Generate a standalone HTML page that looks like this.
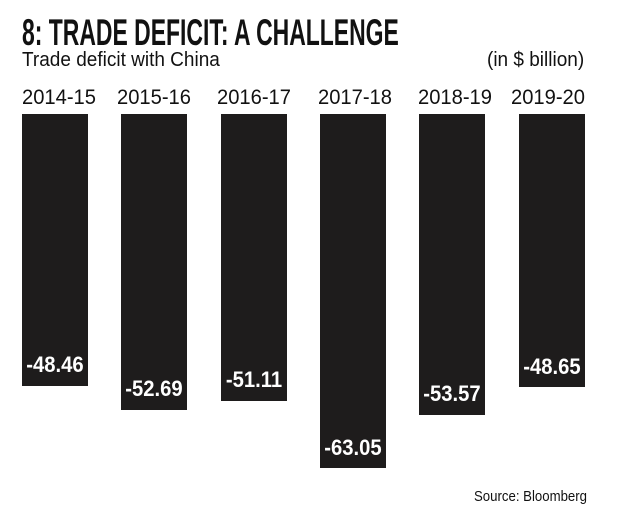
<!DOCTYPE html>
<html><head><style>
body{margin:0;background:#fff;width:620px;height:515px;overflow:hidden;position:relative;font-family:"Liberation Sans",sans-serif;color:#111}
.t{position:absolute;white-space:nowrap;transform-origin:0 0}
.bar{position:absolute;top:114px;background:#1e1c1c}
.v{position:absolute;left:-10px;right:-10px;text-align:center;color:#fff;font-weight:bold;font-size:22px;transform:scaleX(0.92)}
.y{font-size:21px;top:86px;transform:scaleX(0.96)}
</style></head><body>
<div class="t" style="left:22px;top:12px;font-size:37px;font-weight:bold;transform:scaleX(0.62)">8: TRADE DEFICIT: A CHALLENGE</div>
<div class="t" style="left:22px;top:49px;font-size:20px;transform:scaleX(0.95)">Trade deficit with China</div>
<div class="t" style="left:487px;top:49px;font-size:20px;transform:scaleX(0.95)">(in $ billion)</div>
<div class="t y" style="left:22px">2014-15</div>
<div class="t y" style="left:117px">2015-16</div>
<div class="t y" style="left:217px">2016-17</div>
<div class="t y" style="left:318px">2017-18</div>
<div class="t y" style="left:418px">2018-19</div>
<div class="t y" style="left:511px">2019-20</div>
<div class="bar" style="left:22px;width:66px;height:272px"><div class="v" style="top:238px">-48.46</div></div>
<div class="bar" style="left:121px;width:66px;height:296px"><div class="v" style="top:262px">-52.69</div></div>
<div class="bar" style="left:221px;width:66px;height:287px"><div class="v" style="top:253px">-51.11</div></div>
<div class="bar" style="left:320px;width:66px;height:354px"><div class="v" style="top:321px">-63.05</div></div>
<div class="bar" style="left:419px;width:66px;height:301px"><div class="v" style="top:267px">-53.57</div></div>
<div class="bar" style="left:519px;width:66px;height:273px"><div class="v" style="top:240px">-48.65</div></div>
<div class="t" style="left:474px;top:488px;font-size:15px;transform:scaleX(0.88)">Source: Bloomberg</div>
</body></html>
